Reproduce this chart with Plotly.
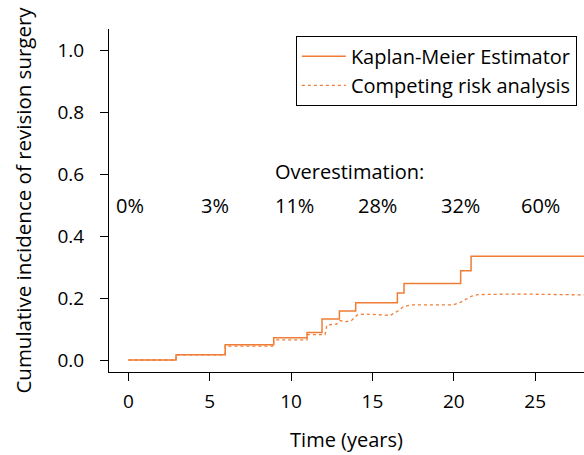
import plotly.graph_objects as go

# Kaplan-Meier step data (time of step, value after step)
km_time = [0.0, 2.93, 5.95, 8.93, 10.98, 11.9, 12.97, 13.97, 16.53, 16.94, 20.42, 21.06, 28.0]
km_value = [0.0, 0.017, 0.049, 0.072, 0.089, 0.132, 0.158, 0.185, 0.216, 0.247, 0.288, 0.335, 0.335]

# Competing risk analysis curve
cr_time = [0.0, 2.93, 2.93, 5.95, 5.95, 8.93, 8.93, 10.98, 10.98, 12.09, 12.2, 12.8, 13.0, 13.4,
           13.7, 14.1, 14.65, 16.1, 16.5, 16.9, 17.4, 19.98, 20.4, 21.1, 21.5, 23.9, 28.0]
cr_value = [0.0, 0.0, 0.017, 0.017, 0.045, 0.045, 0.065, 0.065, 0.082, 0.082, 0.113, 0.116, 0.127, 0.124,
            0.127, 0.147, 0.148, 0.144, 0.156, 0.172, 0.178, 0.178, 0.186, 0.206, 0.211, 0.213, 0.21]

# Overestimation labels
over_labels = ["0%", "3%", "11%", "28%", "32%", "60%"]
over_x = [0.1, 5.3, 10.2, 15.3, 20.4, 25.3]

x_ticks = [0, 5, 10, 15, 20, 25]
y_ticks = [0.0, 0.2, 0.4, 0.6, 0.8, 1.0]

orange = "#F07D35"
font_family = "Open Sans"
fs = 19

fig = go.Figure()
fig.add_trace(go.Scatter(x=km_time, y=km_value, mode="lines", line=dict(color=orange, width=1.5, shape="hv"),
                         name="Kaplan-Meier Estimator"))
fig.add_trace(go.Scatter(x=cr_time, y=cr_value, mode="lines", line=dict(color=orange, width=1.3, dash="dot"),
                         name="Competing risk analysis"))

fig.add_annotation(x=13.6, y=0.607, text="Overestimation:", showarrow=False, xref="x", yref="y",
                   font=dict(size=20, color="black", family=font_family))
for lx, lt in zip(over_x, over_labels):
    fig.add_annotation(x=lx, y=0.5, text=lt, showarrow=False, xref="x", yref="y",
                       font=dict(size=20, color="black", family=font_family))

fig.update_layout(
    width=584, height=455,
    margin=dict(l=109, r=0, t=29, b=83),
    plot_bgcolor="white", paper_bgcolor="white",
    font=dict(family=font_family, size=fs, color="black"),
    showlegend=True,
    legend=dict(x=0.985, y=0.98, xanchor="right", yanchor="top", bgcolor="white",
                bordercolor="black", borderwidth=1, font=dict(size=20), tracegroupgap=0,
                itemwidth=44),
    xaxis=dict(range=[-1.19, 28.0], tickvals=x_ticks, showgrid=False, zeroline=False,
               showline=True, linecolor="black", linewidth=1, ticks="outside", ticklen=8,
               tickcolor="black", title=dict(text="Time (years)", standoff=20, font=dict(size=20)),
               tickfont=dict(size=fs), ticklabelstandoff=4),
    yaxis=dict(range=[-0.0387, 1.068], tickvals=y_ticks, tickformat=".1f", showgrid=False,
               zeroline=False, showline=True, linecolor="black", linewidth=1, ticks="outside",
               ticklen=8, tickcolor="black",
               title=dict(text="Cumulative incidence of revision surgery", standoff=20, font=dict(size=20.5)),
               tickfont=dict(size=fs), ticklabelstandoff=12),
)

fig.write_html("out.html", post_script="document.body.style.margin='0';",
               config={"displayModeBar": False})
